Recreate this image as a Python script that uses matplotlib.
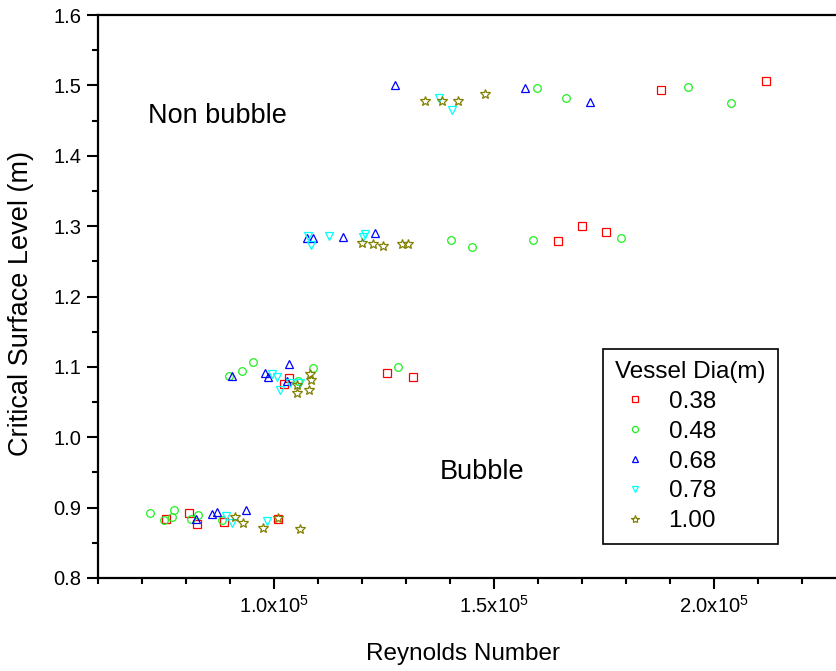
import matplotlib
matplotlib.use("Agg")
import matplotlib.pyplot as plt
from matplotlib.ticker import MultipleLocator, FuncFormatter

plt.rcParams["font.family"] = ["Liberation Sans", "DejaVu Sans"]
plt.rcParams["mathtext.fontset"] = "custom"
plt.rcParams["mathtext.rm"] = "Liberation Sans"
plt.rcParams["mathtext.it"] = "Liberation Sans"

# Reynolds number in units of 1e5, critical surface level in m
re_038 = [0.755, 0.807, 0.825, 0.886, 1.009,
          1.023, 1.034, 1.257, 1.316,
          1.645, 1.700, 1.755,
          1.880, 2.118]
h_038 = [0.884, 0.892, 0.877, 0.880, 0.884,
         1.076, 1.084, 1.091, 1.086,
         1.279, 1.300, 1.292,
         1.493, 1.506]

re_048 = [0.718, 0.750, 0.768, 0.773, 0.827, 0.811, 0.882,
          0.898, 0.927, 0.952, 1.089, 1.282, 1.055,
          1.402, 1.450, 1.589, 1.789,
          1.598, 1.664, 1.941, 2.039]
h_048 = [0.892, 0.882, 0.887, 0.897, 0.890, 0.884, 0.882,
         1.087, 1.094, 1.107, 1.098, 1.100, 1.080,
         1.280, 1.270, 1.280, 1.283,
         1.496, 1.482, 1.498, 1.475]

re_068 = [0.823, 0.859, 0.870, 0.936,
          0.905, 0.980, 0.986, 1.034, 1.030,
          1.075, 1.089, 1.157, 1.230,
          1.275, 1.570, 1.718]
h_068 = [0.884, 0.891, 0.894, 0.897,
         1.087, 1.091, 1.086, 1.104, 1.080,
         1.283, 1.283, 1.285, 1.290,
         1.501, 1.496, 1.476]

re_078 = [0.891, 0.905, 0.984,
          0.995, 1.007, 1.014, 1.036, 1.059,
          1.077, 1.084, 1.125, 1.207, 1.202,
          1.375, 1.405]
h_078 = [0.888, 0.878, 0.881,
         1.090, 1.086, 1.067, 1.077, 1.077,
         1.286, 1.273, 1.286, 1.289, 1.285,
         1.482, 1.465]

re_100 = [0.911, 0.930, 0.975, 1.009, 1.059,
          1.052, 1.052, 1.082, 1.084, 1.080,
          1.200, 1.225, 1.248, 1.291, 1.305,
          1.343, 1.382, 1.418, 1.480]
h_100 = [0.887, 0.878, 0.871, 0.885, 0.870,
         1.074, 1.063, 1.090, 1.081, 1.067,
         1.276, 1.275, 1.272, 1.275, 1.275,
         1.478, 1.478, 1.478, 1.488]

series = [
    ("0.38", re_038, h_038, "s", "#ff0000"),
    ("0.48", re_048, h_048, "o", "#22ee22"),
    ("0.68", re_068, h_068, "^", "#0000ff"),
    ("0.78", re_078, h_078, "v", "#00ffff"),
    ("1.00", re_100, h_100, "*", "#808000"),
]

fig = plt.figure(figsize=(8.36, 6.71), dpi=100)
ax = fig.add_axes([0.1172, 0.1386, 0.8948, 0.839])

for label, xs, ys, mk, col in series:
    ax.plot([x * 1e5 for x in xs], ys, linestyle="none", marker=mk,
            markersize=7.5 if mk == "*" else 5.5, markerfacecolor="none",
            markeredgecolor=col, markeredgewidth=0.9, label=label)

ax.set_xlim(0.6e5, 2.3e5)
ax.set_ylim(0.8, 1.6)
ax.xaxis.set_major_locator(MultipleLocator(0.5e5))
ax.xaxis.set_minor_locator(MultipleLocator(0.1e5))
ax.yaxis.set_major_locator(MultipleLocator(0.1))
ax.yaxis.set_minor_locator(MultipleLocator(0.05))
ax.xaxis.set_major_formatter(FuncFormatter(lambda v, p: r"%.1fx10$^{5}$" % (v / 1e5)))
ax.yaxis.set_major_formatter(FuncFormatter(lambda v, p: "%.1f" % v))

ax.tick_params(which="both", direction="out", top=False, right=False, width=1.5,
               labelsize=14.5)
ax.tick_params(which="major", length=8, pad=4)
ax.tick_params(which="minor", length=4)
for s in ax.spines.values():
    s.set_linewidth(1.6)

ax.set_xlabel("Reynolds Number", fontsize=17.5, labelpad=12)
ax.xaxis.set_label_coords((463 - 98) / 748, -0.115)
ax.set_ylabel("Critical Surface Level (m)", fontsize=19.5, labelpad=8)
ax.yaxis.set_label_coords((34 - 98) / 748, 0.487)

ax.text(0.714e5, 1.456, "Non bubble", fontsize=19.5, ha="left", va="center")
ax.text(1.377e5, 0.951, "Bubble", fontsize=19.5, ha="left", va="center")

leg = ax.legend(title="Vessel Dia(m)", loc="upper left",
                bbox_to_anchor=(603 / 836, 1 - 349 / 671), bbox_transform=fig.transFigure,
                borderaxespad=0, fontsize=17.5, title_fontsize=17.5, fancybox=False,
                framealpha=1, edgecolor="black", markerscale=0.8, handletextpad=0.6,
                labelspacing=0.32, borderpad=0.5, handlelength=1.6)
leg.get_frame().set_linewidth(1.2)
leg._legend_box.align = "left"

fig.savefig("out.png", dpi=100)
